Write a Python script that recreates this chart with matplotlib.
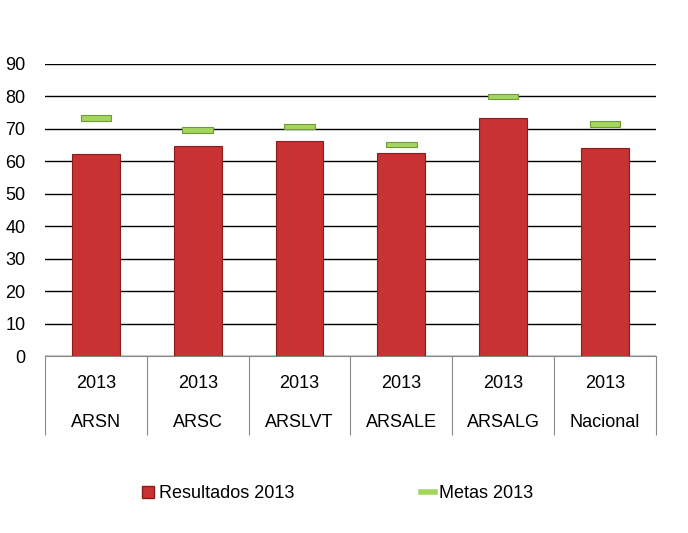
import matplotlib.pyplot as plt
import numpy as np
from matplotlib.lines import Line2D

regions = ["ARSN", "ARSC", "ARSLVT", "ARSALE", "ARSALG", "Nacional"]
years = ["2013"] * 6
resultados = [62.2, 64.7, 66.2, 62.5, 73.3, 64.1]
metas = [73.3, 69.6, 70.8, 65.2, 80.0, 71.5]

plt.rcParams['font.family'] = ['Liberation Sans', 'DejaVu Sans']

red = "#c83232"
red_edge = "#8a1c1c"
green = "#a4d65e"
green_edge = "#6f9a35"

fig = plt.figure(figsize=(6.88, 5.33), dpi=100)
ax = fig.add_axes([0.0654, 0.332, 0.888, 0.548])

x = np.arange(len(regions))
ax.bar(x, resultados, width=0.47, color=red, edgecolor=red_edge, linewidth=0.8, zorder=3)
# metas drawn as thin flat bars centred on the target value
ax.bar(x, 1.7, bottom=np.array(metas) - 0.85, width=0.3, color=green,
       edgecolor=green_edge, linewidth=0.8, zorder=4)

ax.set_xlim(-0.5, len(regions) - 0.5)
ax.set_ylim(0, 90)
ax.set_yticks(range(0, 91, 10))
ax.yaxis.grid(True, color="black", linewidth=1.0, zorder=0)
ax.set_axisbelow(True)
ax.tick_params(axis="y", length=0, labelsize=13, pad=14)
for s in ["top", "right", "left"]:
    ax.spines[s].set_visible(False)
ax.spines["bottom"].set_color("#888888")

# two-level category labels
ax.set_xticks(x)
ax.set_xticklabels([])
ax.tick_params(axis="x", which="major", length=0)
ax.set_xticks(np.arange(-0.5, len(regions)), minor=True)
ax.tick_params(axis="x", which="minor", length=57, color="#888888", width=0.8)
trans = ax.get_xaxis_transform()
for xi, yr, reg in zip(x, years, regions):
    ax.text(xi, -0.0925, yr, transform=trans, ha="center", va="center", fontsize=13)
    ax.text(xi, -0.226, reg, transform=trans, ha="center", va="center", fontsize=13)

handles = [
    Line2D([], [], marker="s", ls="", ms=9, markerfacecolor=red, markeredgecolor=red_edge),
    Line2D([], [], color=green, lw=4),
]
fig.legend(handles, ["Resultados 2013", "Metas 2013"], loc="center",
           bbox_to_anchor=(0.49, 0.074), ncol=2, frameon=False, fontsize=13,
           handlelength=0.8, handletextpad=0.2, columnspacing=7.0)

fig.savefig("out.png", dpi=100)
